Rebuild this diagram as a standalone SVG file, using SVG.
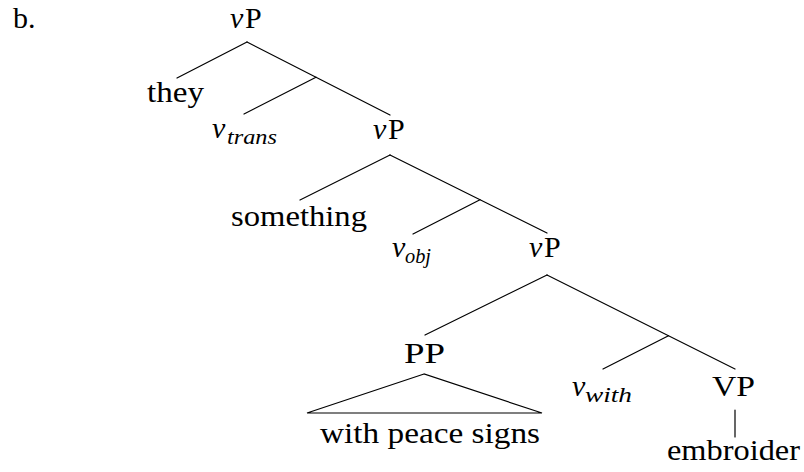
<svg xmlns="http://www.w3.org/2000/svg" width="804" height="472" viewBox="0 0 804 472">
<style>
.it{font-style:italic}
.sub{font-style:italic;font-size:21px}
</style>
<rect width="804" height="472" fill="#fff"/>
<g font-family="Liberation Serif, Times New Roman, serif" font-size="30" fill="#000">
<g id="label-b"><text x="13" y="28">b.</text></g>
<g id="vP1"><text x="230" y="28"><tspan class="it">v</tspan><tspan x="245">P</tspan></text></g>
<g id="they"><text x="147" y="102" textLength="57" lengthAdjust="spacingAndGlyphs">they</text></g>
<g id="v-trans"><text x="212" y="138"><tspan class="it">v</tspan><tspan class="sub" x="227" y="144" textLength="50" lengthAdjust="spacingAndGlyphs">trans</tspan></text></g>
<g id="vP2"><text x="373" y="139"><tspan class="it">v</tspan><tspan x="388">P</tspan></text></g>
<g id="something"><text x="231" y="226" textLength="136" lengthAdjust="spacingAndGlyphs">something</text></g>
<g id="v-obj"><text x="392" y="257"><tspan class="it">v</tspan><tspan class="sub" x="405" y="263" textLength="26" lengthAdjust="spacingAndGlyphs">obj</tspan></text></g>
<g id="vP3"><text x="529" y="257"><tspan class="it">v</tspan><tspan x="544">P</tspan></text></g>
<g id="PP"><text x="404" y="363" textLength="41" lengthAdjust="spacingAndGlyphs">PP</text></g>
<g id="with-peace-signs"><text x="320" y="443" textLength="220" lengthAdjust="spacingAndGlyphs">with peace signs</text></g>
<g id="v-with"><text x="572" y="396"><tspan class="it">v</tspan><tspan class="sub" x="585" y="402" textLength="47" lengthAdjust="spacingAndGlyphs">with</tspan></text></g>
<g id="VP"><text x="712" y="396" textLength="43" lengthAdjust="spacingAndGlyphs">VP</text></g>
<g id="embroider"><text x="667" y="460" textLength="133" lengthAdjust="spacingAndGlyphs">embroider</text></g>
</g>
<g id="connectors" stroke="#000" stroke-width="1.2" fill="none" stroke-linecap="round">
<line x1="247" y1="42" x2="177" y2="78"/>
<line x1="247" y1="42" x2="390" y2="115"/>
<line x1="316" y1="77.2" x2="244" y2="114"/>
<line x1="390" y1="155" x2="300" y2="200"/>
<line x1="390" y1="155" x2="547" y2="233"/>
<line x1="480" y1="199.7" x2="413" y2="234"/>
<line x1="547" y1="275" x2="425" y2="335"/>
<line x1="547" y1="275" x2="735" y2="369"/>
<line x1="668.5" y1="335.7" x2="603" y2="369"/>
<line x1="735" y1="410" x2="735" y2="437"/>
<polygon points="424,374 307,413 542,413"/>
</g>
</svg>
